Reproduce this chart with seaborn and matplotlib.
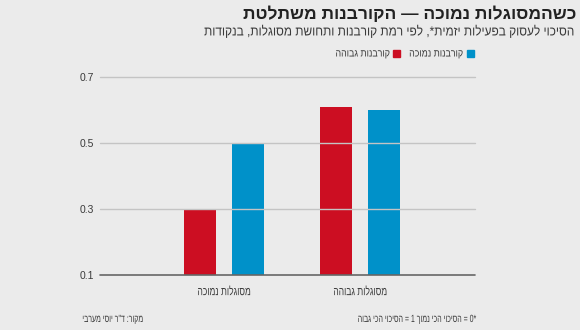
import matplotlib
matplotlib.use("Agg")
import matplotlib.pyplot as plt
import seaborn as sns
import pandas as pd
from matplotlib.patches import Rectangle
from matplotlib.patheffects import AbstractPathEffect
from matplotlib.transforms import Affine2D

# ---- data ----
categories = ["מסוגלות נמוכה", "מסוגלות גבוהה"]
series_names = ["קורבנות גבוהה", "קורבנות נמוכה"]
high_victim = [0.30, 0.61]
low_victim = [0.50, 0.60]
y_ticks = [0.1, 0.3, 0.5, 0.7]

title = "כשהמסוגלות נמוכה — הקורבנות משתלטת"
subtitle = "הסיכוי לעסוק בפעילות יזמית*, לפי רמת קורבנות ותחושת מסוגלות, בנקודות"
source = 'מקור: ד"ר יוסי מערבי'
footnote = "*0 = הסיכוי הכי נמוך 1 = הסיכוי הכי גבוה"

colors = {"קורבנות גבוהה": "#cc0e22", "קורבנות נמוכה": "#0091c9"}


def rtl(s):
    return s[::-1]


class XScale(AbstractPathEffect):
    """Condense text horizontally around a fixed display x."""
    def __init__(self, sx, x0):
        super().__init__()
        self.sx = sx
        self.x0 = x0

    def draw_path(self, renderer, gc, tpath, affine, rgbFace=None):
        t = affine + Affine2D().translate(-self.x0, 0).scale(self.sx, 1).translate(self.x0, 0)
        renderer.draw_path(gc, tpath, t, rgbFace)


rows = []
for c, h, l in zip(categories, high_victim, low_victim):
    rows.append({"cat": c, "grp": series_names[0], "val": h})
    rows.append({"cat": c, "grp": series_names[1], "val": l})
df = pd.DataFrame(rows)

sns.set_theme(style="white")
FONT = ["Liberation Sans", "DejaVu Sans"]
plt.rcParams["font.family"] = FONT

W, H = 580, 330
BG = "#ebebeb"
TXT = "#3a3a3a"

fig = plt.figure(figsize=(5.8, 3.3), dpi=100, facecolor=BG)
ax = fig.add_axes([100 / W, 1 - 275 / H, 375 / W, 198 / H])
ax.set_facecolor(BG)

sns.barplot(data=df, x="cat", y="val", hue="grp", order=categories,
            hue_order=series_names, palette=colors, width=0.706, gap=0.333,
            saturation=1, linewidth=0, ax=ax, legend=False, zorder=2)

ax.set_ylim(0.1, 0.7)
ax.set_xlim(-124 / 136, 1 + 115 / 136)
for sp in ax.spines.values():
    sp.set_visible(False)

for t in y_ticks:
    if t == y_ticks[0]:
        ax.axhline(t, color="#666666", lw=1.2, zorder=3, clip_on=False)
    else:
        ax.axhline(t, color="#c4c4c4", lw=1.0, zorder=3, clip_on=False)

ax.set_yticks(y_ticks)
ax.set_yticklabels([f"{t:.1f}" for t in y_ticks], fontsize=7.5, color=TXT)
ax.set_xticks(range(len(categories)))
xlabels = ax.set_xticklabels([rtl(c) for c in categories], fontsize=8.5, color=TXT)
ax.tick_params(axis="y", length=0, pad=4)
ax.tick_params(axis="x", length=0, pad=8)
ax.set_xlabel("")
ax.set_ylabel("")
for i, lab in enumerate(xlabels):
    x0 = ax.transData.transform((i, 0.1))[0]
    lab.set_path_effects([XScale(0.72, x0)])


def rtext(xpix, ypix, s, size, sx=1.0, **kw):
    t = fig.text(xpix / W, 1 - ypix / H, rtl(s), ha="right", va="center",
                 fontsize=size, **kw)
    if sx != 1.0:
        t.set_path_effects([XScale(sx, xpix)])
    return t


# titles
rtext(576, 14, title, 12.5, fontweight="bold", color="#222222")
rtext(576, 32, subtitle, 9.5, sx=0.9, color=TXT)

# legend (RTL: first item at the right)
fig.patches.append(Rectangle((467 / W, 1 - 57 / H), 7 / W, 7 / H,
                             transform=fig.transFigure, color=colors[series_names[1]]))
rtext(463, 53.5, series_names[1], 7.5, sx=0.85, color=TXT)
fig.patches.append(Rectangle((393 / W, 1 - 57 / H), 7 / W, 7 / H,
                             transform=fig.transFigure, color=colors[series_names[0]]))
rtext(390, 53.5, series_names[0], 7.5, sx=0.85, color=TXT)

# footer
rtext(143, 319, source, 7.5, sx=0.67, color=TXT)
rtext(476, 319, footnote, 7.5, sx=0.67, color=TXT)

fig.savefig("out.png", dpi=100, facecolor=BG)
